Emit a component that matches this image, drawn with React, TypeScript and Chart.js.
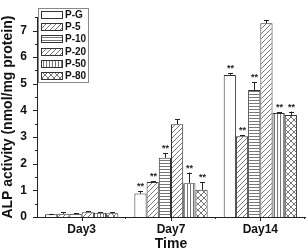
import React, { useEffect, useRef } from "react";
import { Chart, registerables } from "chart.js";

Chart.register(...registerables);

const categories = ["Day3", "Day7", "Day14"];
const seriesNames = ["P-G", "P-5", "P-10", "P-20", "P-50", "P-80"];
const pG = [0.1, 0.88, 5.33];
const p5 = [0.12, 1.31, 3.03];
const p10 = [0.12, 2.22, 4.77];
const p20 = [0.18, 3.48, 7.27];
const p50 = [0.16, 1.27, 3.9];
const p80 = [0.14, 1.02, 3.83];
const errG = [0.02, 0.1, 0.06];
const err5 = [0.05, 0.03, 0.04];
const err10 = [0.03, 0.18, 0.3];
const err20 = [0.03, 0.2, 0.13];
const err50 = [0.03, 0.4, 0.03];
const err80 = [0.03, 0.28, 0.13];
// significance marks: 1 = "**" shown above bar
const starsG = [0, 1, 1];
const stars5 = [0, 1, 1];
const stars10 = [0, 1, 1];
const stars20 = [0, 0, 0];
const stars50 = [0, 1, 1];
const stars80 = [0, 1, 1];
const yTickValues = [0, 1, 2, 3, 4, 5, 6, 7];

const FONT = "'Liberation Sans', Arial, sans-serif";

function makePattern(kind: string): CanvasPattern | string {
  if (kind === "none") return "#ffffff";
  const s = kind === "diag" ? 5 : kind === "cross" ? 6 : 3;
  const c = document.createElement("canvas");
  c.width = s;
  c.height = s;
  const g = c.getContext("2d")!;
  g.fillStyle = "#ffffff";
  g.fillRect(0, 0, s, s);
  g.strokeStyle = "#555555";
  g.lineWidth = 0.8;
  g.beginPath();
  if (kind === "diag" || kind === "cross") {
    g.moveTo(-1, s + 1);
    g.lineTo(s + 1, -1);
    g.moveTo(-1, 1);
    g.lineTo(1, -1);
    g.moveTo(s - 1, s + 1);
    g.lineTo(s + 1, s - 1);
  }
  if (kind === "cross") {
    g.moveTo(-1, -1);
    g.lineTo(s + 1, s + 1);
    g.moveTo(s - 1, -1);
    g.lineTo(s + 1, 1);
    g.moveTo(-1, s - 1);
    g.lineTo(1, s + 1);
  }
  if (kind === "horiz") {
    g.moveTo(0, 1.5);
    g.lineTo(s, 1.5);
  }
  if (kind === "vert") {
    g.moveTo(1.5, 0);
    g.lineTo(1.5, s);
  }
  g.stroke();
  return g.createPattern(c, "repeat")!;
}

const patternKinds = ["none", "diag", "horiz", "diag", "vert", "cross"];

export default function App() {
  const ref = useRef<HTMLCanvasElement>(null);
  useEffect(() => {
    document.body.style.margin = "0";
    const values = [pG, p5, p10, p20, p50, p80];
    const errs = [errG, err5, err10, err20, err50, err80];
    const stars = [starsG, stars5, stars10, stars20, stars50, stars80];
    const fills = patternKinds.map(makePattern);

    const extras = {
      id: "extras",
      afterDatasetsDraw(chart: any) {
        const ctx = chart.ctx;
        const y = chart.scales.y;
        ctx.save();
        values.forEach((vals, i) => {
          const meta = chart.getDatasetMeta(i);
          meta.data.forEach((el: any, j: number) => {
            const top = y.getPixelForValue(vals[j] + errs[i][j]);
            const x = Math.round(el.x) + 0.5;
            ctx.strokeStyle = "#222";
            ctx.lineWidth = 1;
            ctx.beginPath();
            ctx.moveTo(x, el.y);
            ctx.lineTo(x, top);
            ctx.moveTo(x - 2.5, Math.round(top) + 0.5);
            ctx.lineTo(x + 2.5, Math.round(top) + 0.5);
            ctx.stroke();
            if (stars[i][j]) {
              ctx.fillStyle = "#222";
              ctx.font = "bold 9px " + FONT;
              ctx.textAlign = "center";
              ctx.textBaseline = "alphabetic";
              ctx.fillText("**", x, top - 2);
            }
          });
        });
        ctx.restore();
      },
      afterDraw(chart: any) {
        const ctx = chart.ctx;
        const area = chart.chartArea;
        const y = chart.scales.y;
        const xs = chart.scales.x;
        ctx.save();
        ctx.strokeStyle = "#222";
        ctx.lineWidth = 1;
        ctx.beginPath();
        // y ticks
        for (let v = 0; v <= 7.5 + 1e-6; v += 0.5) {
          const py = Math.round(y.getPixelForValue(v)) + 0.5;
          const len = Number.isInteger(v) ? 4 : 2;
          ctx.moveTo(area.left, py);
          ctx.lineTo(area.left - len, py);
        }
        // x ticks
        const n = categories.length;
        const w = (area.right - area.left) / n;
        for (let k = 0; k < n; k++) {
          const cx = Math.round(xs.getPixelForValue(k)) + 0.5;
          ctx.moveTo(cx, area.bottom);
          ctx.lineTo(cx, area.bottom + 4);
          const bx = Math.round(area.left + w * (k + 1)) - 0.5;
          ctx.moveTo(bx, area.bottom);
          ctx.lineTo(bx, area.bottom + 2);
        }
        ctx.stroke();

        // legend
        const lx = 38, ly = 8, lw = 50, lh = 74;
        ctx.strokeStyle = "#888";
        ctx.strokeRect(lx + 0.5, ly + 0.5, lw, lh);
        seriesNames.forEach((name, i) => {
          const iy = ly + 3 + i * 12.2;
          ctx.fillStyle = fills[i] as any;
          ctx.fillRect(41, Math.round(iy), 21, 7);
          ctx.strokeStyle = "#333";
          ctx.strokeRect(41.5, Math.round(iy) + 0.5, 21, 7);
          ctx.fillStyle = "#111";
          ctx.font = "bold 10px " + FONT;
          ctx.textAlign = "left";
          ctx.textBaseline = "middle";
          ctx.fillText(name, 65, Math.round(iy) + 4);
        });
        ctx.restore();
      },
    };

    const chart = new Chart(ref.current!, {
      type: "bar",
      data: {
        labels: categories,
        datasets: seriesNames.map((name, i) => ({
          label: name,
          data: values[i],
          backgroundColor: fills[i] as any,
          borderColor: "#333",
          borderWidth: 1,
          borderSkipped: "bottom",
          categoryPercentage: 0.82,
          barPercentage: 1,
        })),
      },
      options: {
        responsive: false,
        animation: false,
        layout: { padding: { top: 2, right: 2, left: 0, bottom: 0 } },
        plugins: {
          legend: { display: false },
          tooltip: { enabled: false },
        },
        scales: {
          x: {
            grid: { display: false, drawTicks: false },
            border: { display: true, color: "#222", width: 1 },
            ticks: {
              padding: 5,
              color: "#111",
              font: { family: FONT, size: 12, weight: "bold" },
            },
            title: {
              display: true,
              text: "Time",
              color: "#111",
              font: { family: FONT, size: 14, weight: "bold", lineHeight: 1 },
              padding: { top: 0, bottom: 0 },
            },
            afterFit: (s: any) => {
              s.height = 34;
            },
          },
          y: {
            min: 0,
            max: 7.5,
            grid: { display: false, drawTicks: false },
            border: { display: true, color: "#222", width: 1 },
            afterBuildTicks: (s: any) => {
              s.ticks = yTickValues.map((v) => ({ value: v }));
            },
            ticks: {
              padding: 10,
              color: "#111",
              font: { family: FONT, size: 12, weight: "bold" },
            },
            title: {
              display: true,
              text: "ALP activity (nmol/mg protein)",
              color: "#111",
              font: { family: FONT, size: 14, weight: "bold" },
              padding: { top: 0, bottom: 0 },
            },
            afterFit: (s: any) => {
              s.width = 37;
            },
          },
        },
      },
      plugins: [extras],
    });
    return () => chart.destroy();
  }, []);
  return (
    <div style={{ width: 307, height: 251 }}>
      <canvas ref={ref} width={307} height={251} style={{ display: "block" }} />
    </div>
  );
}
